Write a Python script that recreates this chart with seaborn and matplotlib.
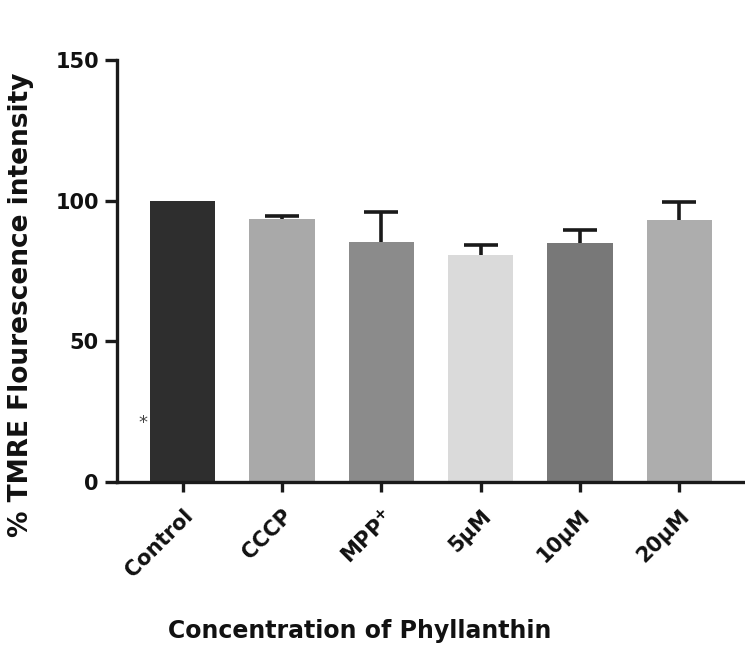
import numpy as np
import pandas as pd
import matplotlib
matplotlib.use("Agg")
import matplotlib.pyplot as plt
import seaborn as sns

# data
groups = ["Control", "CCCP", "MPP$^{+}$", "5µM", "10µM", "20µM"]
mean_pct = [100.0, 93.4, 85.3, 80.7, 84.9, 93.1]
sem_pct = [0.0, 1.2, 10.7, 3.4, 4.7, 6.3]
bar_colors = ["#2e2e2e", "#a9a9a9", "#8b8b8b", "#dadada", "#787878", "#adadad"]
yticks = [0, 50, 100, 150]

sns.set_theme(style="ticks")
plt.rcParams['font.family'] = ['DejaVu Sans']
plt.rcParams['mathtext.default'] = 'bf'
plt.rcParams['text.color'] = '#111111'
plt.rcParams['axes.labelcolor'] = '#111111'
plt.rcParams['xtick.labelcolor'] = '#111111'
plt.rcParams['ytick.labelcolor'] = '#111111'

df = pd.DataFrame({'group': groups, 'value': mean_pct})

fig = plt.figure(figsize=(7.45, 6.66), dpi=100)
ax = fig.add_axes([0.157, 0.276, 0.843, 0.634])

sns.barplot(data=df, x='group', y='value', hue='group', palette=bar_colors,
            width=0.66, legend=False, ax=ax, saturation=1, linewidth=0)

# upper-only error bars (control has none)
x_pos = np.arange(len(groups))
err = np.array(sem_pct)
has_err = err > 0
eb = ax.errorbar(x_pos[has_err], np.array(mean_pct)[has_err],
                 yerr=[np.zeros(has_err.sum()), err[has_err]], fmt='none',
                 ecolor='#1a1a1a', elinewidth=2.6, capsize=12, capthick=2.6, zorder=3)
eb[1][0].set_visible(False)  # hide the lower caps

ax.set_xlim(-0.66, len(groups) - 0.34)
ax.set_ylim(0, 150)
ax.set_yticks(yticks)
ax.set_yticklabels([str(t) for t in yticks], fontsize=15, fontweight='bold')
ax.set_xticks(x_pos)
ax.set_xticklabels(groups, rotation=45, ha='right', rotation_mode='anchor',
                   fontsize=15, fontweight='bold')

sns.despine(ax=ax)
for side in ['left', 'bottom']:
    ax.spines[side].set_linewidth(2.4)
    ax.spines[side].set_color('#1a1a1a')
ax.tick_params(axis='y', length=9, width=2.4, color='#1a1a1a', pad=4)
ax.tick_params(axis='x', length=7, width=2.4, color='#1a1a1a', pad=10)

ax.set_ylabel('% TMRE Flourescence intensity', fontsize=19, fontweight='bold')
ax.yaxis.set_label_coords(-0.132, 0.42)
ax.set_xlabel('Concentration of Phyllanthin', fontsize=17, fontweight='bold')
ax.xaxis.set_label_coords(0.387, -0.325)

# small asterisk beside the control bar
ax.text(-0.4, 21, '*', fontsize=13, color='#444444', ha='center', va='center')

fig.savefig('out.png', dpi=100)
